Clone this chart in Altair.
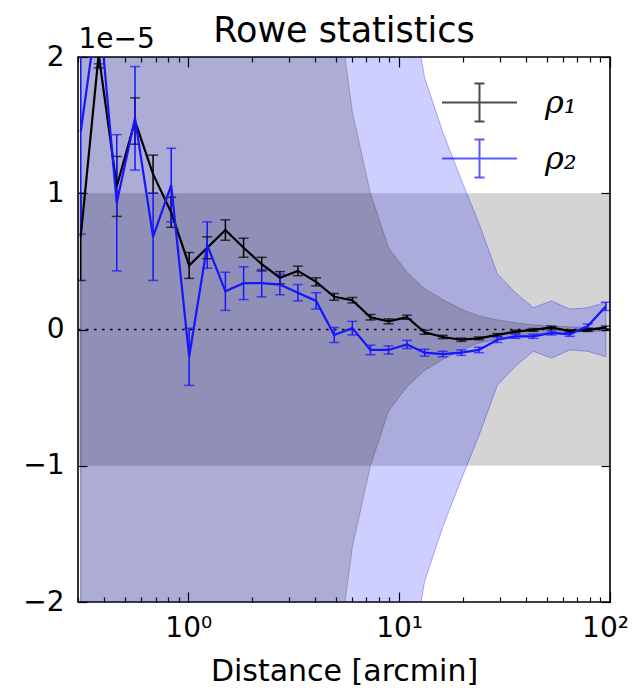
import altair as alt
import pandas as pd

# ---------------- data (y values in units of 1e-5) ----------------
x_arcmin = [0.309, 0.376, 0.458, 0.559, 0.681, 0.830, 1.01, 1.23, 1.50, 1.83,
            2.23, 2.72, 3.31, 4.04, 4.92, 6.00, 7.31, 8.91, 10.9, 13.2,
            16.1, 19.7, 23.9, 29.2, 35.6, 43.3, 52.8, 64.4, 78.5, 95.6]

rho1 = [0.68, 2.02, 1.05, 1.53, 1.14, 0.86, 0.47, 0.60, 0.73, 0.60,
        0.48, 0.38, 0.43, 0.35, 0.24, 0.215, 0.09, 0.06, 0.09, -0.02,
        -0.055, -0.075, -0.065, -0.04, -0.015, -0.003, 0.015, -0.012, -0.005, 0.015]
rho1_err = [0.32, 0.10, 0.22, 0.17, 0.14, 0.11, 0.095, 0.08, 0.075, 0.07,
            0.05, 0.045, 0.035, 0.03, 0.025, 0.02, 0.02, 0.018, 0.015, 0.015,
            0.012, 0.012, 0.01, 0.01, 0.01, 0.01, 0.01, 0.01, 0.01, 0.01]

rho2 = [1.45, 2.40, 0.93, 1.55, 0.68, 1.06, -0.20, 0.62, 0.28, 0.34,
        0.34, 0.33, 0.27, 0.21, -0.04, 0.01, -0.15, -0.15, -0.11, -0.17,
        -0.18, -0.17, -0.15, -0.075, -0.05, -0.05, -0.025, -0.035, 0.025, 0.17]
rho2_err = [0.75, 0.45, 0.50, 0.38, 0.32, 0.27, 0.21, 0.17, 0.14, 0.12,
            0.10, 0.075, 0.06, 0.06, 0.055, 0.05, 0.035, 0.03, 0.03, 0.025,
            0.02, 0.02, 0.02, 0.02, 0.015, 0.015, 0.015, 0.015, 0.015, 0.03]

# half widths of the two shaded tolerance regions
band_dark = [1900, 1180, 740, 460, 290, 180, 112, 70, 44, 27,
             17, 10.7, 6.7, 4.2, 2.6, 1.6, 1.0, 0.6, 0.42, 0.30,
             0.22, 0.15, 0.10, 0.07, 0.05, 0.035, 0.025, 0.02, 0.015, 0.012]
band_light = [1080, 770, 550, 390, 280, 200, 145, 100, 74, 53,
              38, 27, 19, 13.7, 9.8, 7.0, 5.0, 3.6, 2.6, 1.85,
              1.45, 1.10, 0.78, 0.41, 0.27, 0.16, 0.21, 0.15, 0.16, 0.20]

series_names = ["ρ₁", "ρ₂"]
series_colors = ["black", "#1515ff"]

x_range = [0.3, 100]
req_band = [-1.0, 1.0]
y_ticks = [-2, -1, 0, 1, 2]
x_major = [1, 10, 100]
x_minor = [0.3, 0.4, 0.5, 0.6, 0.7, 0.8, 0.9, 2, 3, 4, 5, 6, 7, 8, 9,
           20, 30, 40, 50, 60, 70, 80, 90]

# ---------------- tables ----------------
rows = []
for name, vals, errs in [(series_names[0], rho1, rho1_err), (series_names[1], rho2, rho2_err)]:
    for xv, v, e in zip(x_arcmin, vals, errs):
        rows.append({"x": xv, "y": v, "lo": v - e, "hi": v + e, "series": name})
pts = pd.DataFrame(rows)

bands = pd.DataFrame({
    "x": x_arcmin,
    "dlo": [-d for d in band_dark], "dhi": band_dark,
    "llo": [-d for d in band_light], "lhi": band_light,
})
span = pd.DataFrame({"x": x_range, "lo": [req_band[0]] * 2, "hi": [req_band[1]] * 2, "zero": [0, 0]})

W, H = 532, 545
xs = alt.Scale(type="log", domain=x_range, nice=False)
ys = alt.Scale(domain=[-2, 2], nice=False, zero=False)

major_test = "indexof([1, 10, 100], datum.value) >= 0"
tick_cond = {"condition": {"test": major_test, "value": 10}, "value": 5}

ax_x_lab = alt.Axis(orient="bottom", values=x_major,
                    labelExpr="datum.value == 1 ? '10⁰' : (datum.value == 10 ? '10¹' : '10²')",
                    ticks=False, domain=False, grid=False, labelPadding=12,
                    labelOffset={"condition": {"test": "datum.value == 100", "value": -5}, "value": 0},
                    labelFont="DejaVu Sans", labelFontSize=28, labelColor="black",
                    labelFlush=False, labelOverlap=False, labelBound=False,
                    title="Distance [arcmin]", titleFont="DejaVu Sans", titleFontSize=30,
                    titleFontWeight="normal", titleColor="black", titlePadding=14)
ax_x_bot = alt.Axis(orient="top", offset=-H, values=x_major + x_minor, labels=False,
                    domain=False, grid=False, tickSize=tick_cond, tickColor="black",
                    tickWidth=1.2, title=None)
ax_x_top = alt.Axis(orient="bottom", offset=-H, values=x_major + x_minor, labels=False,
                    domain=False, grid=False, tickSize=tick_cond, tickColor="black",
                    tickWidth=1.2, title=None)

ax_y_lab = alt.Axis(orient="left", values=y_ticks,
                    labelExpr="datum.value < 0 ? '−' + (-datum.value) : '' + datum.value",
                    ticks=False, domain=False, grid=False, labelPadding=14,
                    labelFont="DejaVu Sans", labelFontSize=28, labelColor="black",
                    labelFlush=False, labelOverlap=False,
                    title="1e−5", titleAngle=0, titleAlign="left", titleBaseline="alphabetic",
                    titleX=0, titleY=-10, titleFont="DejaVu Sans", titleFontSize=28,
                    titleFontWeight="normal", titleColor="black")
ax_y_left = alt.Axis(orient="right", offset=-W, values=y_ticks, labels=False, domain=False,
                     grid=False, tickSize=9, tickColor="black", tickWidth=1.2, title=None)
ax_y_right = alt.Axis(orient="left", offset=-W, values=y_ticks, labels=False, domain=False,
                      grid=False, tickSize=9, tickColor="black", tickWidth=1.2, title=None)

sym = "M-1.335,0H1.335M0,-0.676V0.676M-0.178,-0.676H0.178M-0.178,0.676H0.178"
legend = alt.Legend(orient="none", legendX=372, legendY=16, title=None,
                    symbolType=sym, symbolSize=3158, symbolStrokeWidth=2,
                    labelFont="DejaVu Serif", labelFontStyle="italic",
                    labelFontSize=32, labelColor="black", labelOffset=36,
                    rowPadding=3, padding=0)
cscale = alt.Scale(domain=series_names, range=series_colors)
color = alt.Color("series:N", scale=cscale, legend=legend)

gray = alt.Chart(span).mark_area(color="black", fillOpacity=0.17, clip=True).encode(
    x=alt.X("x:Q", scale=xs, axis=ax_x_lab),
    y=alt.Y("hi:Q", scale=ys, axis=ax_y_lab),
    y2="lo:Q",
)

light = alt.Chart(bands).mark_area(color="blue", fillOpacity=0.19, stroke="blue",
                                   strokeOpacity=0.3, strokeWidth=1, clip=True).encode(
    x=alt.X("x:Q", scale=xs, axis=ax_x_bot),
    y=alt.Y("lhi:Q", scale=ys, axis=ax_y_left),
    y2="llo:Q",
)

dark = alt.Chart(bands).mark_area(color="black", fillOpacity=0.17, stroke="black",
                                  strokeOpacity=0.2, strokeWidth=1, clip=True).encode(
    x=alt.X("x:Q", scale=xs, axis=None),
    y=alt.Y("dhi:Q", scale=ys, axis=None),
    y2="dlo:Q",
)

zero = alt.Chart(span).mark_line(color="black", strokeDash=[2.5, 5.5], strokeWidth=1.6,
                                 clip=True).encode(
    x=alt.X("x:Q", scale=xs, axis=ax_x_top),
    y=alt.Y("zero:Q", scale=ys, axis=ax_y_right),
)

bars = alt.Chart(pts).mark_rule(strokeWidth=1.5, clip=True).encode(
    x=alt.X("x:Q", scale=xs, axis=None),
    y=alt.Y("lo:Q", scale=ys, axis=None),
    y2="hi:Q",
    color=color,
)
cap_lo = alt.Chart(pts).mark_tick(orient="horizontal", size=10, thickness=1.5, clip=True).encode(
    x=alt.X("x:Q", scale=xs, axis=None),
    y=alt.Y("lo:Q", scale=ys, axis=None),
    color=color,
)
cap_hi = alt.Chart(pts).mark_tick(orient="horizontal", size=10, thickness=1.5, clip=True).encode(
    x=alt.X("x:Q", scale=xs, axis=None),
    y=alt.Y("hi:Q", scale=ys, axis=None),
    color=color,
)
lines = alt.Chart(pts).mark_line(strokeWidth=2.2, clip=True).encode(
    x=alt.X("x:Q", scale=xs, axis=None),
    y=alt.Y("y:Q", scale=ys, axis=None),
    color=color,
)

chart = alt.layer(gray, light, dark, zero, bars, cap_lo, cap_hi, lines).resolve_axis(
    x="independent", y="independent"
).properties(
    width=W, height=H,
    title=alt.Title("Rowe statistics", font="DejaVu Sans", fontSize=35, fontWeight="normal",
                    color="black", anchor="middle", frame="group", offset=-24),
    autosize=alt.AutoSizeParams(type="none"),
    padding={"left": 70, "top": 49, "right": 20, "bottom": 84},
    background="white",
).configure_view(stroke="black", strokeWidth=1.6)

chart.save("out.html", embed_options={"renderer": "svg", "actions": False})
